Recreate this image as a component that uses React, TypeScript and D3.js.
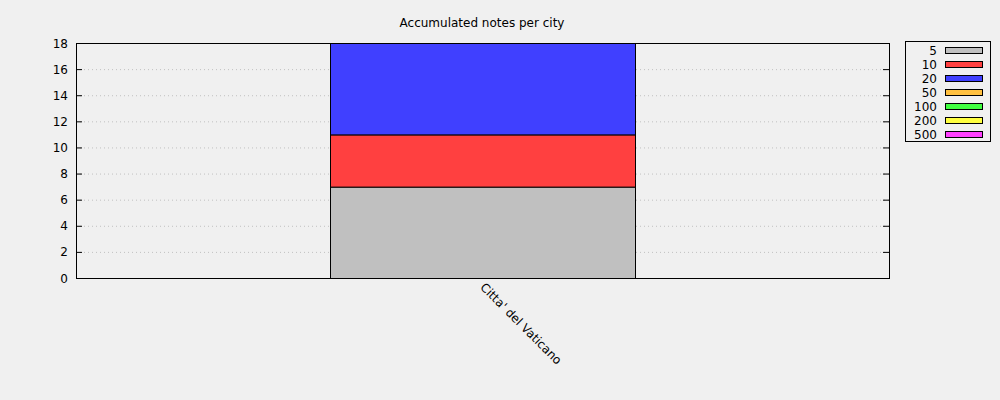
import React from "react";
import * as d3 from "d3";

const cities = ["Citta' del Vaticano"];
const denominations = ["5", "10", "20", "50", "100", "200", "500"];
const colors = ["#c0c0c0", "#ff4040", "#4040ff", "#ffc040", "#40ff40", "#ffff40", "#ff40ff"];
const counts: number[][] = [
  [7], // 5
  [4], // 10
  [7], // 20
  [0], // 50
  [0], // 100
  [0], // 200
  [0], // 500
];
const yTicks = [0, 2, 4, 6, 8, 10, 12, 14, 16, 18];

const W = 1000, H = 400;
const L = 76, R = 889, T = 43, B = 278;
const font = "DejaVu Sans, sans-serif";

export default function App() {
  const x = d3.scaleBand<string>().domain(cities).range([L, R]).paddingInner(0).paddingOuter((813 / 305 - 1) / 2);
  const y = d3.scaleLinear().domain([0, 18]).range([B, T]);
  const rows = cities.map((c, i) => {
    const o: any = { city: c };
    denominations.forEach((d, k) => (o[d] = counts[k][i]));
    return o;
  });
  const stacked = d3.stack<any>().keys(denominations)(rows);

  return (
    <svg width={W} height={H} style={{ position: "absolute", left: 0, top: 0, background: "#f0f0f0" }} fontFamily={font}>
      <rect x={0} y={0} width={W} height={H} fill="#f0f0f0" />
      <text x={482} y={27} textAnchor="middle" fontSize={12} fill="#000">Accumulated notes per city</text>
      {yTicks.slice(1, -1).map((t) => (
        <line key={"g" + t} x1={L} x2={R} y1={y(t) + 0.5} y2={y(t) + 0.5} stroke="#c0c0c0" strokeDasharray="1,3" />
      ))}
      {stacked.map((s, k) =>
        s.map((d, i) =>
          d[1] - d[0] > 0 ? (
            <rect key={k + "-" + i} x={x(cities[i])! + 0.5} y={y(d[1]) + 0.5} width={x.bandwidth()} height={y(d[0]) - y(d[1])}
              fill={colors[k]} stroke="#000" strokeWidth={1} />
          ) : null
        )
      )}
      <rect x={L + 0.5} y={T + 0.5} width={R - L} height={B - T} fill="none" stroke="#000" strokeWidth={1} />
      {yTicks.map((t) => (
        <g key={"t" + t}>
          <line x1={L} x2={L + 6} y1={y(t) + 0.5} y2={y(t) + 0.5} stroke="#000" />
          <line x1={R - 6} x2={R} y1={y(t) + 0.5} y2={y(t) + 0.5} stroke="#000" />
          <text x={68} y={y(t) + 4.5} textAnchor="end" fontSize={12} fill="#000">{t}</text>
        </g>
      ))}
      {cities.map((c) => {
        const cx = x(c)! + x.bandwidth() / 2;
        return (
          <g key={c}>
            <text transform={`translate(${cx - 3},${B + 10}) rotate(45)`} fontSize={12} fill="#000">{c}</text>
          </g>
        );
      })}
      <rect x={905.5} y={41.5} width={85} height={100} fill="none" stroke="#000" />
      {denominations.map((d, k) => (
        <g key={d}>
          <text x={937} y={50 + k * 14 + 4.5} textAnchor="end" fontSize={12} fill="#000">{d}</text>
          <rect x={945.5} y={47.5 + k * 14} width={37} height={6} fill={colors[k]} stroke="#000" />
        </g>
      ))}
    </svg>
  );
}
